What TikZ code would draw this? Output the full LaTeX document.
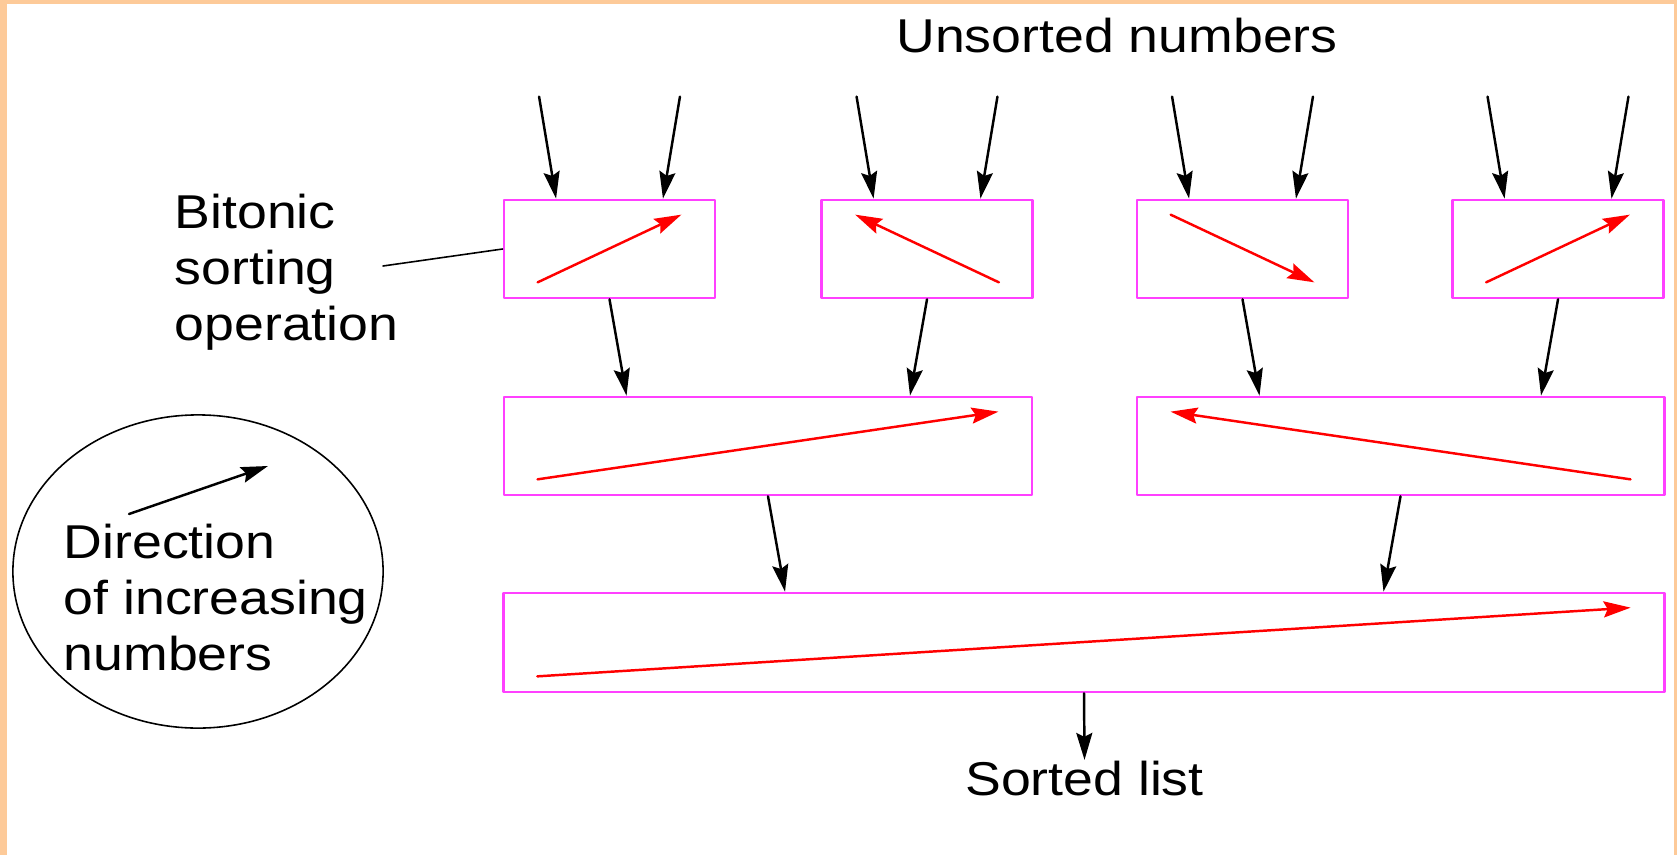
\documentclass[tikz,border=0pt]{standalone}
\usepackage{fontspec}
\setmainfont{Liberation Sans}[FakeStretch=1.13]
\usetikzlibrary{arrows.meta}
\usetikzlibrary{calc}
\usetikzlibrary{shapes.geometric}
\definecolor{peach}{RGB}{253,202,153}
\definecolor{boxpink}{RGB}{255,64,255}

\begin{document}
\begin{tikzpicture}[line cap=round,line join=round,>={Stealth[length=0.27cm,width=0.16cm,inset=0.04cm]},x=0.01cm,y=-0.01cm,
  sortbox/.style={draw=boxpink,line width=0.75pt,inner sep=0pt,minimum width=2.11cm,minimum height=0.98cm},
  flow/.style={->,line width=0.7pt},
  incr/.style={->,red,line width=0.7pt},
  lbl/.style={inner sep=0pt,font=\fontsize{13.5pt}{16pt}\selectfont}]
\useasboundingbox (0,0) rectangle (1677,855);
\fill[peach] (0,0) rectangle (7,855);
\fill[peach] (0,0) rectangle (1677,4);
\fill[peach] (1674,0) rectangle (1677,855);
% first stage
\node[sortbox] (b1) at (609.5,249) {};
\node[sortbox] (b2) at (927,249) {};
\node[sortbox] (b3) at (1242.5,249) {};
\node[sortbox] (b4) at (1558,249) {};
% second stage
\node[sortbox,minimum width=5.28cm] (m1) at (768,446) {};
\node[sortbox,minimum width=5.27cm] (m2) at (1400.5,446) {};
% last stage
\node[sortbox,minimum width=11.6cm,minimum height=0.99cm] (s) at (1084,642.5) {};
\node[lbl,anchor=base] (unsorted) at (1117,53) {Unsorted numbers};
\node[lbl,anchor=base] (sorted) at (1084.5,795) {Sorted list};
\node[lbl,anchor=north west,align=left] (bso) at (174,193) {Bitonic\\sorting\\operation};
% legend
\node[draw,ellipse,line width=0.45pt,inner sep=0pt,minimum width=3.7cm,minimum height=3.13cm] (legend) at (198,571.5) {};
\node[lbl,anchor=north west,align=left] (legtext) at (63,523) {Direction\\of increasing\\numbers};
\coordinate (lo) at ($(legend.center)+(-69,-57.5)$);
\coordinate (hi) at ($(legend.center)+(70,-105.5)$);
\draw[flow] (lo) -- (hi);
\coordinate (lead) at (383,266);
\draw[line width=0.45pt] (lead) -- (b1.west);
% inputs
\foreach \b in {b1,b2,b3,b4}{
  \coordinate (\b-l) at ($(\b.north west)!0.25!(\b.north east)$);
  \coordinate (\b-r) at ($(\b.north west)!0.75!(\b.north east)$);
  \coordinate (\b-lin) at ($(\b-l)+(-17,-102)$);
  \coordinate (\b-rin) at ($(\b-r)+(17,-102)$);
  \draw[flow] (\b-lin) -- (\b-l);
  \draw[flow] (\b-rin) -- (\b-r);
}
% stage to stage
\draw[flow] (b1.south) -- ($(b1.south |- m1.north)+(17,0)$);
\draw[flow] (b2.south) -- ($(b2.south |- m1.north)+(-17,0)$);
\draw[flow] (b3.south) -- ($(b3.south |- m2.north)+(17,0)$);
\draw[flow] (b4.south) -- ($(b4.south |- m2.north)+(-17,0)$);
\draw[flow] (m1.south) -- ($(m1.south |- s.north)+(17,0)$);
\draw[flow] (m2.south) -- ($(m2.south |- s.north)+(-17,0)$);
\draw[flow] (s.south) -- (sorted.north);
% directions
\draw[incr] ($(b1.south west)+(35,-17)$) -- ($(b1.north east)+(-35,16)$);
\draw[incr] ($(b2.south east)+(-35,-17)$) -- ($(b2.north west)+(35,16)$);
\draw[incr] ($(b3.north west)+(35,16)$) -- ($(b3.south east)+(-35,-17)$);
\draw[incr] ($(b4.south west)+(35,-17)$) -- ($(b4.north east)+(-35,16)$);
\draw[incr] ($(m1.south west)+(35,-17)$) -- ($(m1.north east)+(-35,16)$);
\draw[incr] ($(m2.south east)+(-35,-17)$) -- ($(m2.north west)+(35,16)$);
\draw[incr] ($(s.south west)+(35,-17)$) -- ($(s.north east)+(-35,16)$);
\end{tikzpicture}
\end{document}
